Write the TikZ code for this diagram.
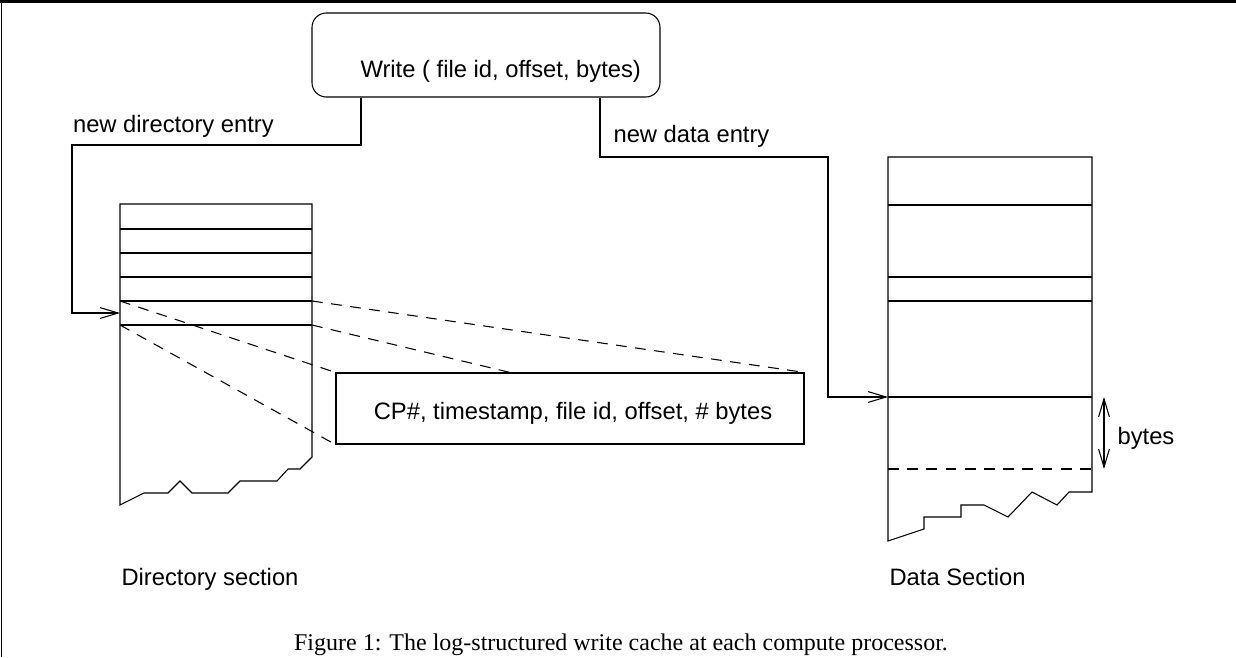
\documentclass[tikz,border=0pt]{standalone}
\usepackage{fontspec}
\setmainfont{Liberation Serif}
\setsansfont{Liberation Sans}
\usetikzlibrary{arrows.meta,calc,positioning}

\begin{document}
\begin{tikzpicture}[x=4.1667pt,y=-4.1667pt,line width=0.45pt,
  lbl/.style={font=\sffamily\fontsize{9.9}{12}\selectfont,inner sep=0pt},
  entryarrow/.style={-{Straight Barb[length=7.5pt,width=4.5pt]}},
  bytesarrow/.style={{Straight Barb[length=7.5pt,width=4.5pt]}-{Straight Barb[length=7.5pt,width=4.5pt]}},
  dline/.style={dash pattern=on 4.5pt off 3.5pt}]
\useasboundingbox (0,0) rectangle (123.6,65.7);
%frame
\draw[line width=1.4pt] (0,0.17) -- (123.6,0.17);
\draw[line width=0.8pt] (0.15,0) -- (0.15,65.7);
%write call
\node[draw,rounded corners=6pt,minimum width=145pt,minimum height=35pt] (write) at (48.6,5.5) {};
\node[lbl,anchor=base west] (writetxt) at (36.0,7.7) {Write ( file id, offset, bytes)};
\coordinate (W1) at (36.1,14.5);
\coordinate (DL) at (7.2,14.5);
\coordinate (dirin) at (12.0,31.3);
\coordinate (W2) at (60.0,15.7);
\coordinate (DR) at (82.8,15.7);
\coordinate (datain) at (88.8,39.7);
\draw[entryarrow] (write.south -| W1) -- (W1) -- (DL) |- (dirin);
\draw[entryarrow] (write.south -| W2) -- (W2) -- (DR) |- (datain);
\node[lbl,anchor=base west] (dirlbl) at (7.25,13.2) {new directory entry};
\node[lbl,anchor=base west] (datalbl) at (61.3,14.2) {new data entry};
%directory section
\draw (12.0,20.4) -- (31.2,20.4) -- (31.2,45.7) -- (30.0,46.9) -- (28.8,46.9) -- (27.7,48.1)
  -- (24.0,48.1) -- (22.8,49.3) -- (19.2,49.3) -- (18.0,48.1) -- (16.8,49.3) -- (14.4,49.3)
  -- (12.0,50.5) -- cycle;
\foreach \y in {22.9,25.3,27.7,30.1,32.5} {
  \draw (12.0,\y) -- (31.2,\y);
}
%directory entry
\node[draw,minimum width=195pt,minimum height=29.6pt] (cp) at (57.0,40.85) {};
\node[lbl,anchor=base] (cptxt) at (57.3,41.9) {CP\#, timestamp, file id, offset, \# bytes};
\coordinate (E1) at (31.2,30.1);
\coordinate (E2) at (12.0,30.1);
\coordinate (E3) at (31.2,32.5);
\coordinate (E4) at (12.0,32.5);
\draw[dline] (E1) -- (cp.north east);
\draw[dline] (E2) -- (cp.north west);
\draw[dline] (E3) -- ($(cp.north west)!0.372!(cp.north east)$);
\draw[dline] (E4) -- (cp.south west);
%data section
\draw (88.8,15.7) -- (109.2,15.7) -- (109.2,49.2) -- (106.9,49.2) -- (105.7,50.5) -- (103.2,49.2)
  -- (100.8,51.7) -- (98.4,50.5) -- (96.1,50.5) -- (96.1,51.7) -- (92.4,51.7) -- (92.4,52.9)
  -- (88.8,54.1) -- cycle;
\foreach \y in {20.5,27.7,30.1,39.7} {
  \draw (88.8,\y) -- (109.2,\y);
}
\draw[dline] (88.8,46.9) -- (109.2,46.9);
%bytes
\coordinate (B1) at (110.4,39.7);
\coordinate (B2) at (110.4,46.9);
\draw[bytesarrow] (B1) -- (B2);
\node[lbl,anchor=west] (byteslbl) at (111.7,43.8) {bytes};
%section names
\node[lbl,anchor=base west] (dirname) at (12.1,58.5) {Directory section};
\node[lbl,anchor=base west] (dataname) at (88.9,58.5) {Data Section};
%caption
\node[font=\fontsize{10}{12}\selectfont,inner sep=0pt,anchor=base] (caption) at (62.1,65.0) {Figure 1: The log-structured write cache at each compute processor.};
\end{tikzpicture}
\end{document}
